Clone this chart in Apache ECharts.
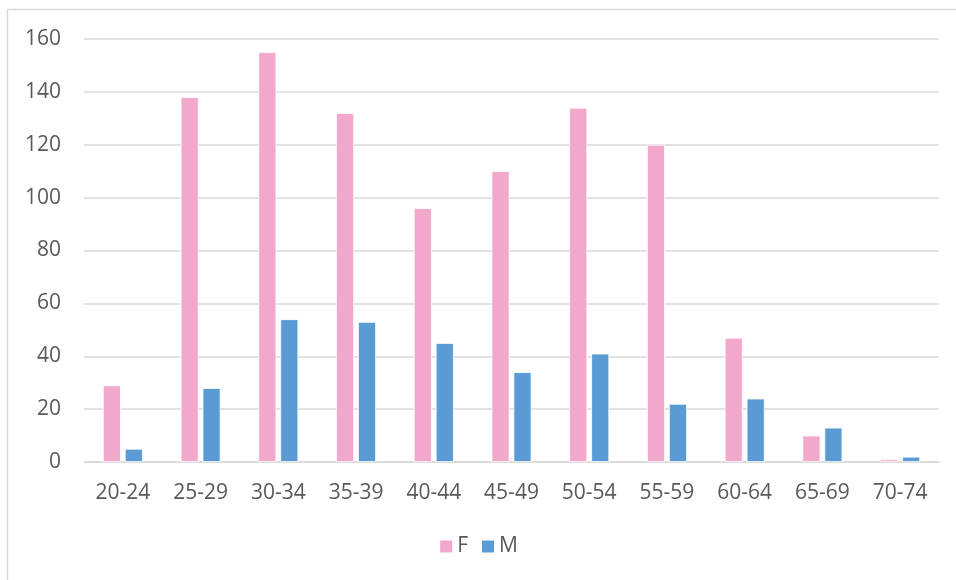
<!DOCTYPE html>
<html>
<head>
<meta charset="utf-8">
<script src="https://cdn.jsdelivr.net/npm/echarts@6/dist/echarts.min.js"></script>
<style>
  html, body { margin: 0; padding: 0; background: #fff; }
  #chart { width: 956px; height: 580px; }
</style>
</head>
<body>
<div id="chart"></div>
<script>
// Age bands on the x axis
const ageGroups = ['20-24', '25-29', '30-34', '35-39', '40-44', '45-49', '50-54', '55-59', '60-64', '65-69', '70-74'];
// Counts per age band
const femaleCounts = [29, 138, 155, 132, 96, 110, 134, 120, 47, 10, 1];
const maleCounts = [5, 28, 54, 53, 45, 34, 41, 22, 24, 13, 2];
// Value axis ticks
const yTicks = [0, 20, 40, 60, 80, 100, 120, 140, 160];

const FONT = '"Open Sans", "Liberation Sans", sans-serif';
const TEXT = '#595959';
const GRID_LINE = '#d9d9d9';

const chart = echarts.init(document.getElementById('chart'));
chart.setOption({
  backgroundColor: '#fff',
  animation: false,
  textStyle: { fontFamily: FONT, color: TEXT },
  graphic: [{
    type: 'rect',
    shape: { x: 7.5, y: 9.5, width: 1000, height: 1000 },
    style: { fill: 'none', stroke: GRID_LINE, lineWidth: 1.5 },
    silent: true
  }],
  grid: { left: 84, right: 17, top: 39, bottom: 118, containLabel: false },
  legend: {
    data: ['F', 'M'],
    bottom: 18,
    left: 'center',
    icon: 'rect',
    itemWidth: 14,
    itemHeight: 14,
    itemGap: 12,
    textStyle: { fontFamily: FONT, fontSize: 21, color: TEXT, padding: [0, 0, 0, -1] }
  },
  xAxis: {
    type: 'category',
    data: ageGroups,
    axisTick: { show: false },
    axisLine: { lineStyle: { color: GRID_LINE, width: 1.5 } },
    axisLabel: { fontFamily: FONT, fontSize: 21, color: TEXT, margin: 21 }
  },
  yAxis: {
    type: 'value',
    min: yTicks[0],
    max: yTicks[yTicks.length - 1],
    interval: yTicks[1] - yTicks[0],
    axisLine: { show: false },
    axisTick: { show: false },
    splitLine: { lineStyle: { color: GRID_LINE, width: 1.5 } },
    axisLabel: { fontFamily: FONT, fontSize: 21, color: TEXT, margin: 23 }
  },
  series: [
    {
      name: 'F',
      type: 'bar',
      data: femaleCounts,
      barWidth: 18,
      barGap: '22%',
      itemStyle: { color: '#f2a8cb', borderColor: '#ffffff', borderWidth: 0.8 }
    },
    {
      name: 'M',
      type: 'bar',
      data: maleCounts,
      barWidth: 18,
      itemStyle: { color: '#5b9bd5', borderColor: '#ffffff', borderWidth: 0.8 }
    }
  ]
});
</script>
</body>
</html>
